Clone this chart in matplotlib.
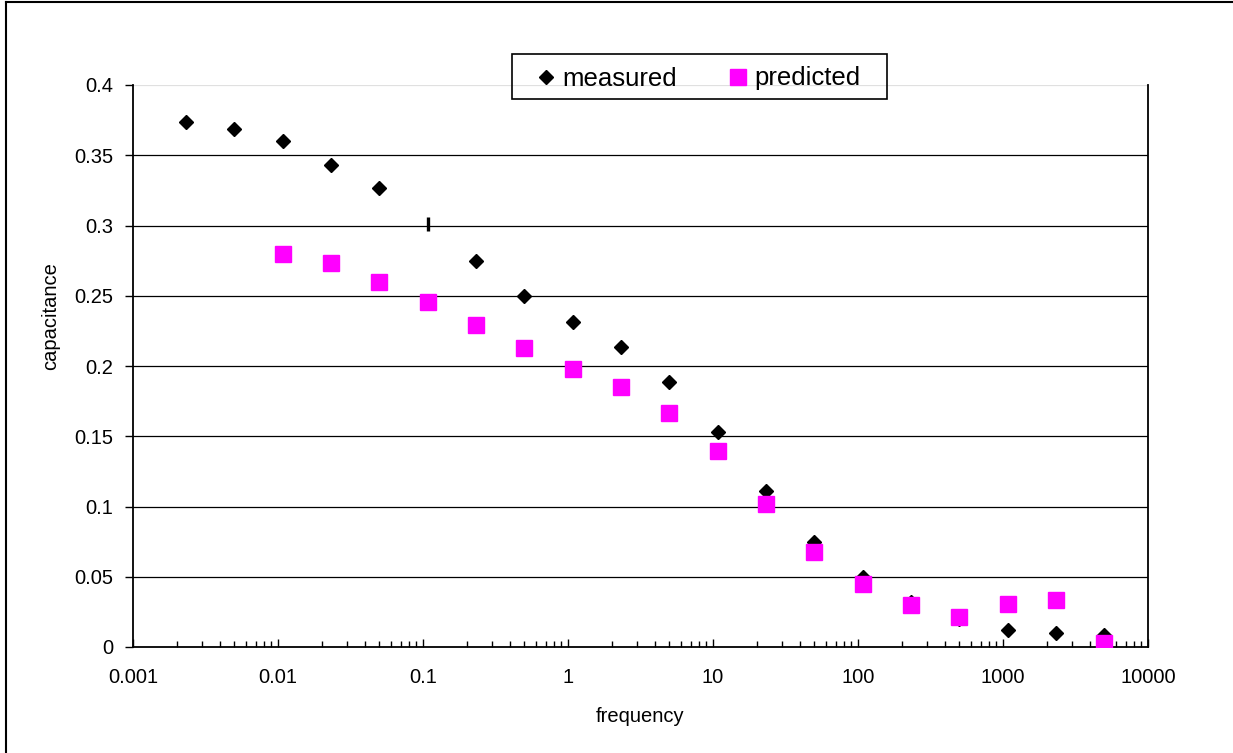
import matplotlib
matplotlib.use("Agg")
import matplotlib.pyplot as plt
from matplotlib.lines import Line2D
from matplotlib.patches import Rectangle
from matplotlib.ticker import LogLocator, FixedLocator, FixedFormatter, NullFormatter

plt.rcParams['font.family'] = ['Liberation Sans', 'DejaVu Sans']

# frequency points (log spaced, one third of a decade apart)
freq = [0.00232, 0.005, 0.0108, 0.0232, 0.05, 0.108, 0.232, 0.5, 1.08, 2.32,
        5, 10.8, 23.2, 50, 108, 232, 500, 1080, 2320, 5000]

measured = [0.374, 0.369, 0.360, 0.343, 0.327, 0.301, 0.275, 0.250, 0.231, 0.2135,
            0.1885, 0.153, 0.111, 0.075, 0.0498, 0.032, 0.020, 0.012, 0.010, 0.0085]

# predicted curve starts at the third frequency
pred_freq = freq[2:]
predicted = [0.280, 0.273, 0.260, 0.2455, 0.229, 0.2125, 0.198, 0.185, 0.1665, 0.1395,
             0.1018, 0.0676, 0.0448, 0.030, 0.0215, 0.0306, 0.0337, 0.003]

# this one measured point shows as a bar instead of a diamond
odd_point = 5

xticks = [0.001, 0.01, 0.1, 1, 10, 100, 1000, 10000]
xlabels = ["0.001", "0.01", "0.1", "1", "10", "100", "1000", "10000"]
yticks = [0, 0.05, 0.1, 0.15, 0.2, 0.25, 0.3, 0.35, 0.4]
ylabels = ["0", "0.05", "0.1", "0.15", "0.2", "0.25", "0.3", "0.35", "0.4"]

W, H = 1233, 753
fig = plt.figure(figsize=(W/100, H/100), dpi=100)
ax = fig.add_axes([133/W, 1-647/H, (1148-133)/W, (647-85)/H])

ax.set_xscale("log")
ax.set_xlim(0.001, 10000)
ax.set_ylim(0, 0.4)

for y in yticks[1:-1]:
    ax.axhline(y, color="black", lw=0.9, zorder=1)
ax.axhline(0.4, color="#e0e0e0", lw=0.9, zorder=1)

mf = [f for i, f in enumerate(freq) if i != odd_point]
mv = [v for i, v in enumerate(measured) if i != odd_point]
ax.plot(mf, mv, ls="none", marker="D", ms=7.4, color="black", zorder=3)
ax.plot([freq[odd_point]], [measured[odd_point]], ls="none", marker="|", ms=10,
        mew=2.4, color="black", zorder=3)
ax.plot(pred_freq, predicted, ls="none", marker="s", ms=11, color="#ff00ff",
        mec="#ff00ff", zorder=4)

ax.xaxis.set_major_locator(FixedLocator(xticks))
ax.xaxis.set_major_formatter(FixedFormatter(xlabels))
ax.xaxis.set_minor_locator(LogLocator(base=10, subs=range(2, 10), numticks=20))
ax.xaxis.set_minor_formatter(NullFormatter())
ax.yaxis.set_major_locator(FixedLocator(yticks))
ax.yaxis.set_major_formatter(FixedFormatter(ylabels))

ax.tick_params(axis="x", which="major", direction="in", length=6, width=1,
               labelsize=14.5, pad=15)
ax.tick_params(axis="x", which="minor", direction="in", length=4, width=1)
ax.tick_params(axis="y", which="major", direction="out", length=6, width=1,
               labelsize=14.5, pad=8)

for s in ["left", "bottom", "right"]:
    ax.spines[s].set_color("black")
    ax.spines[s].set_linewidth(1.3)
ax.spines["top"].set_visible(False)

# axis titles
fig.text(640/W, 1-717/H, "frequency", fontsize=14.5, ha="center", va="center")
fig.text(51/W, 1-316/H, "capacitance", fontsize=14.5, ha="center", va="center",
         rotation=90)

# legend entries, with the box drawn separately
handles = [
    Line2D([], [], ls="none", marker="D", ms=7.5, color="black"),
    Line2D([], [], ls="none", marker="s", ms=11, color="#ff00ff"),
]
fig.legend(handles, ["measured", "predicted"], ncol=2, fontsize=18.5,
           loc="center left", bbox_to_anchor=(535.7/W, 1-78.5/H),
           frameon=False, borderpad=0, borderaxespad=0, handletextpad=0.22,
           columnspacing=2.0, handlelength=0.8)
fig.add_artist(Rectangle((512/W, 1-99/H), (887-512)/W, (99-54)/H,
                         transform=fig.transFigure, fill=False,
                         edgecolor="black", lw=1.2))

# outer frame of the chart area
fig.add_artist(Line2D([6/W, 6/W], [0, 1-2/H], color="black", lw=1.5,
                      transform=fig.transFigure))
fig.add_artist(Line2D([6/W, 1], [1-2/H, 1-2/H], color="black", lw=1.5,
                      transform=fig.transFigure))

fig.savefig("out.png", dpi=100)
plt.close()
